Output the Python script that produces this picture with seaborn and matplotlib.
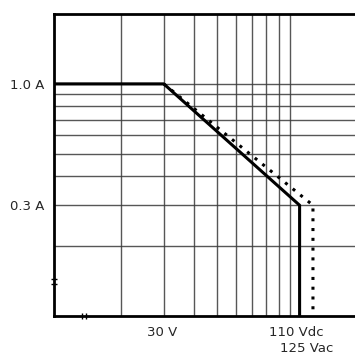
import matplotlib
matplotlib.use("Agg")
import matplotlib.pyplot as plt
import seaborn as sns
import pandas as pd

# Data
voltage_dc = [10.5, 30, 110, 110]
current_dc = [1.0, 1.0, 0.3, 0.1]
voltage_ac = [30, 125, 125]
current_ac = [1.0, 0.3, 0.106]
x_grid = [20, 30, 40, 50, 60, 70, 80, 90, 100]
y_grid = [0.2, 0.3, 0.4, 0.5, 0.6, 0.7, 0.8, 0.9, 1.0]
y_ticks = [1.0, 0.3]
y_labels = ["1.0 A", "0.3 A"]

sns.set_style("white")
plt.rcParams['font.family'] = ['DejaVu Sans']

fig = plt.figure(figsize=(3.55, 3.54), dpi=100)
ax = fig.add_axes([54/355, (354-316)/354, 1.02 - 54/355, (316-14)/354])
ax.set_xscale('log')
ax.set_yscale('log')
ax.set_xlim(10.5, 200)
ax.set_ylim(0.1, 2.0)

for gx in x_grid:
    ax.axvline(gx, color='#3a3a3a', lw=1.0, alpha=0.85, zorder=1)
for gy in y_grid:
    ax.axhline(gy, color='#3a3a3a', lw=1.0, alpha=0.85, zorder=1)

df_dc = pd.DataFrame({"V": voltage_dc, "I": current_dc})
df_ac = pd.DataFrame({"V": voltage_ac, "I": current_ac})
sns.lineplot(data=df_dc, x="V", y="I", ax=ax, color='black', lw=2.2, sort=False,
             estimator=None, zorder=3)
sns.lineplot(data=df_ac, x="V", y="I", ax=ax, color='black', lw=2.2, sort=False,
             estimator=None, linestyle=(0, (1, 2.2)), zorder=3)

ax.set_xlabel("")
ax.set_ylabel("")
for s in ['left', 'bottom', 'top']:
    ax.spines[s].set_color('black')
    ax.spines[s].set_linewidth(2.0)
ax.spines['right'].set_visible(False)

ax.set_xticks([])
ax.set_xticks([], minor=True)
ax.set_yticks(y_ticks)
ax.set_yticklabels(y_labels)
ax.set_yticks([], minor=True)
ax.tick_params(axis='y', length=0, pad=7, labelsize=9.5)

fs = 9.5
# x labels
ax.annotate("30 V", xy=(30, 0), xycoords=('data', 'axes fraction'),
            xytext=(-2, -16), textcoords='offset pixels', ha='center', va='center', fontsize=fs)
ax.annotate("110 Vdc", xy=(110, 0), xycoords=('data', 'axes fraction'),
            xytext=(-3.5, -17), textcoords='offset pixels', ha='center', va='center', fontsize=fs)
ax.annotate("125 Vac", xy=(125, 0), xycoords=('data', 'axes fraction'),
            xytext=(-6.5, -32), textcoords='offset pixels', ha='center', va='center', fontsize=fs,
            annotation_clip=False)

# axis break marks
ax.plot([13.7, 14.3], [0.1, 0.1], ls='none', marker='|', ms=5, mew=1.0, color='black', clip_on=False, zorder=4)
ax.plot([10.5, 10.5], [0.138, 0.144], ls='none', marker='_', ms=5, mew=1.0, color='black', clip_on=False, zorder=4)

fig.savefig("out.png", dpi=100)
